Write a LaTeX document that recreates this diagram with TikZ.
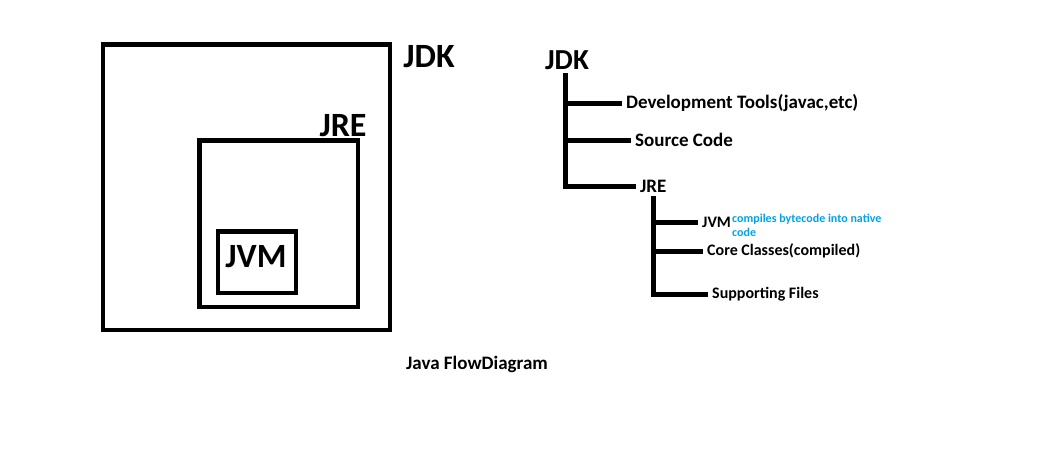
\documentclass[tikz,border=0pt]{standalone}
\usepackage{fontspec}
\setmainfont{Carlito}
\usetikzlibrary{positioning}
\definecolor{paintblue}{RGB}{0,162,232}

\begin{document}
\begin{tikzpicture}[x=1pt, y=-1pt,
    box/.style={line width=4.5pt},
    branch/.style={line width=5pt},
    biglabel/.style={font=\bfseries\fontsize{34}{40}\selectfont, inner sep=0pt},
    rootlabel/.style={font=\bfseries\fontsize{29}{34}\selectfont, inner sep=0pt},
    item/.style={font=\bfseries\fontsize{19}{22}\selectfont, inner sep=4pt, anchor=west},
    subitem/.style={font=\bfseries\fontsize{16}{19}\selectfont, inner sep=4pt, anchor=west}]
    \useasboundingbox (0,0) rectangle (1045,451);

    % Nested boxes
    \draw[box] (103,44.5) rectangle (390,330);
    \draw[box] (199.5,140.5) rectangle (358,307);
    \draw[box] (218,231.5) rectangle (296,293);
    \node[biglabel] (jdkbox) at (429,57) {JDK};
    \node[biglabel] (jrebox) at (343,126) {JRE};
    \node[biglabel] (jvmbox) at (256,257) {JVM};

    % Tree: JDK
    \node[rootlabel] (jdk) at (567,60) {JDK};
    \coordinate (jdktop) at (565,73);
    \node[item] (devtools) at (622,103) {Development Tools(javac,etc)};
    \node[item] (source) at (631,140) {Source Code};
    \node[item] (jre) at (636,186) {JRE};
    \draw[branch] (jdktop) |- (devtools.west);
    \draw[branch] (jdktop) |- (source.west);
    \draw[branch] (jdktop) |- (jre.west);

    % Tree: JRE
    \node[subitem] (jvm) at (698,222) {JVM};
    \node[subitem] (core) at (703,251) {Core Classes(compiled)};
    \node[subitem] (support) at (708,294) {Supporting Files};
    \draw[branch] (jre.south) |- (jvm.west);
    \draw[branch] (jre.south) |- (core.west);
    \draw[branch] (jre.south) |- (support.west);

    % Note on the JVM
    \node[paintblue, font=\bfseries\fontsize{12}{14}\selectfont, align=left,
        inner sep=0pt, anchor=west] (jvmnote) at (732,225)
        {compiles bytecode into native\\code};

    % Caption
    \node[font=\bfseries\fontsize{19}{22}\selectfont] (caption) at (477,364) {Java FlowDiagram};
\end{tikzpicture}
\end{document}
